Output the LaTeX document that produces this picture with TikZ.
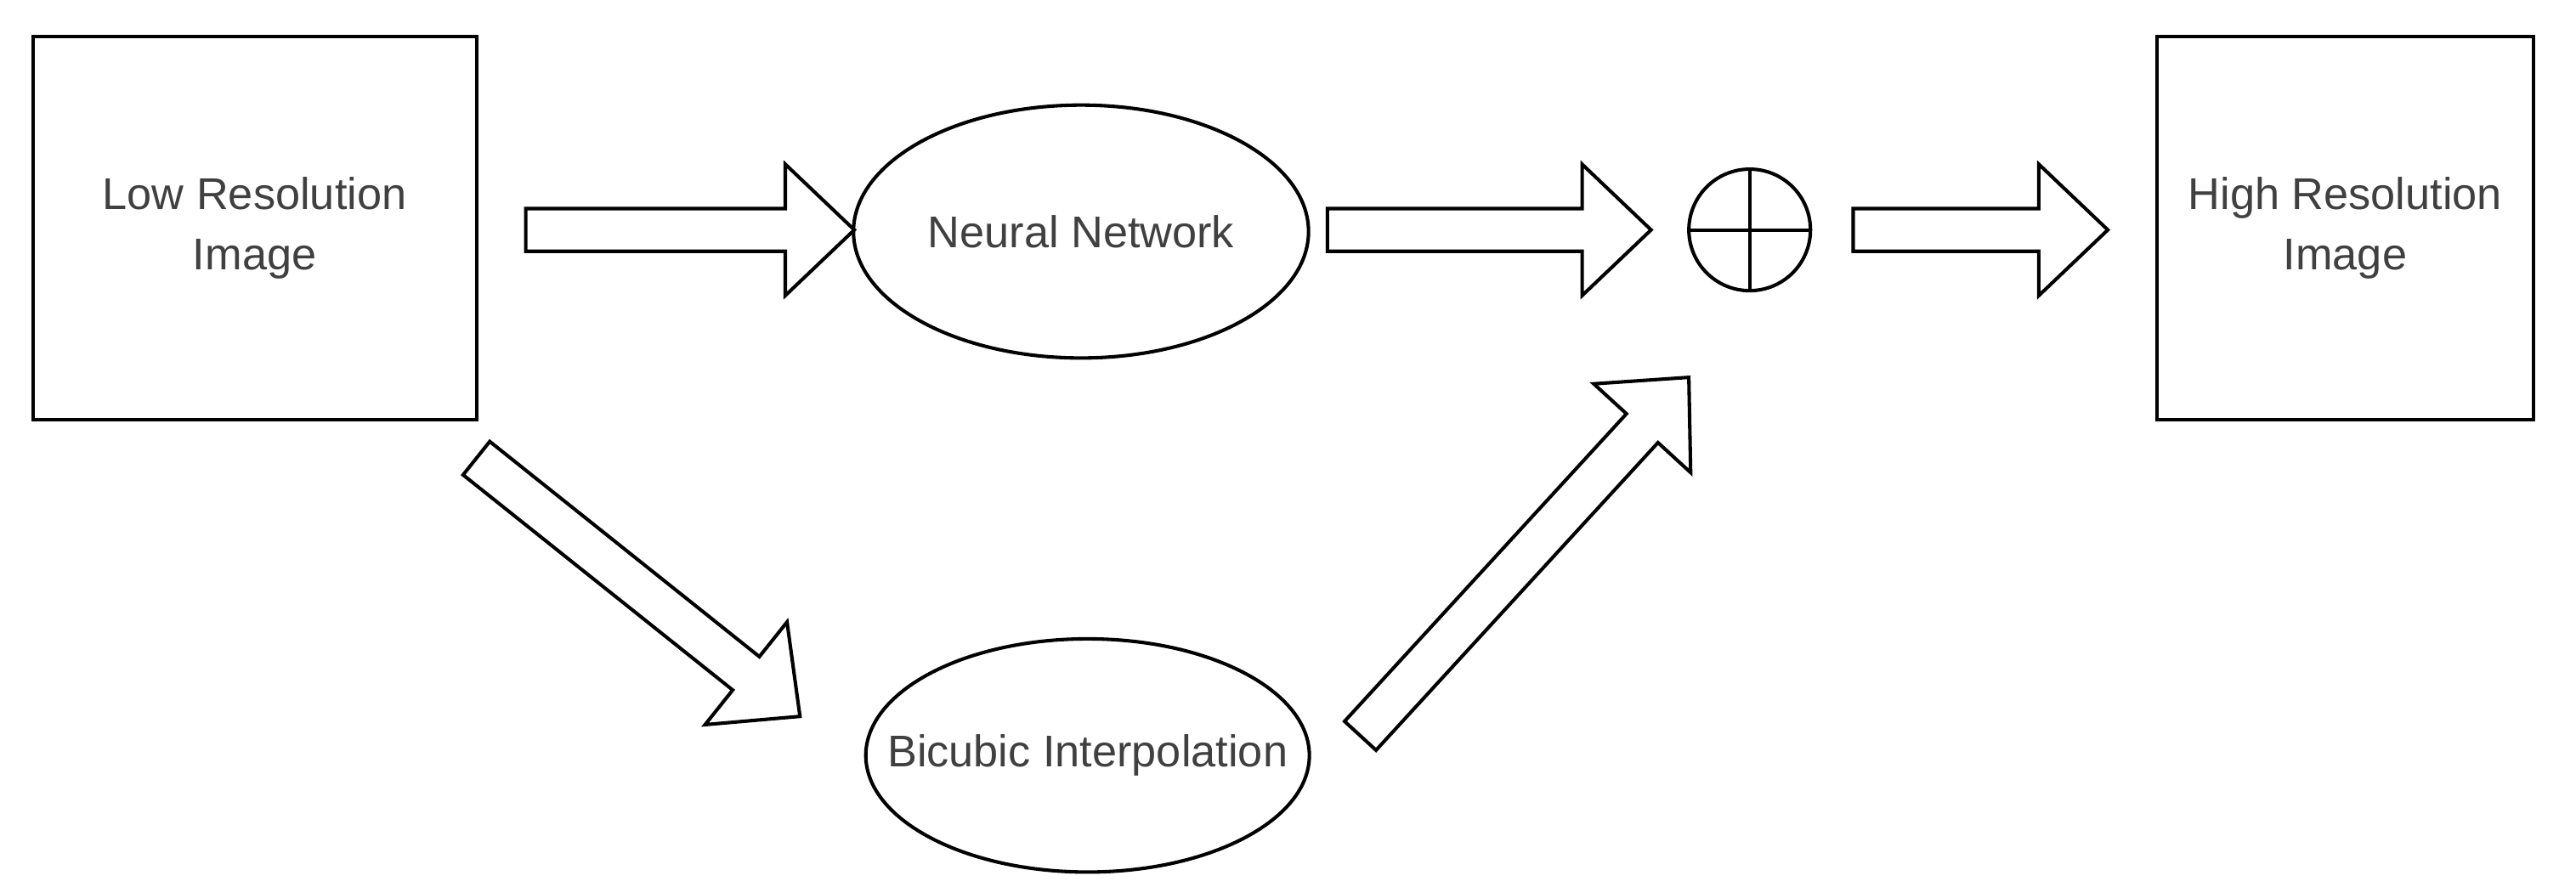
\documentclass[tikz,border=0pt]{standalone}
\usepackage{fontspec}
\setmainfont{Liberation Sans}
\usetikzlibrary{shapes.geometric}
\begin{document}
\begin{tikzpicture}[
  box/.style={draw,line width=0.6pt,minimum width=2.7cm,minimum height=2.33cm,align=center,text=black!75},
  ell/.style={draw,ellipse,line width=0.6pt,inner sep=0},
  lbl/.style={text=black!75},
  arr/.style={draw,line width=0.6pt,line join=miter},
  every node/.style={font=\fontsize{7.7}{10.5}\selectfont}]
\useasboundingbox (0,5.03) rectangle (15.68,10.43);
\newcommand\barrow[3]{%
  \begin{scope}[shift={#1},rotate=#2]
  \pgfmathsetmacro\L{#3}\pgfmathsetmacro\H{#3-0.42}
  \draw[arr] (0,-.13)--(\H,-.13)--(\H,-.40)--(\L,0)--(\H,.40)--(\H,.13)--(0,.13)--cycle;
  \end{scope}}
\node[box] (lr) at (1.55,9.04) {Low Resolution\\Image};
\node[box,minimum width=2.29cm] (hr) at (14.275,9.04) {High Resolution\\Image};
\node[ell,minimum width=2.77cm,minimum height=1.54cm] (nn) at (6.58,9.02) {};
\node[lbl] (nnt) at (nn) {Neural Network};
\node[ell,minimum width=2.70cm,minimum height=1.42cm] (bi) at (6.62,5.83) {};
\node[lbl] (bit) at (bi) {Bicubic Interpolation};
\node[circle,draw,line width=0.6pt,minimum size=0.74cm,inner sep=0] (plus) at (10.65,9.03) {};
\draw[line width=0.6pt] (plus.north)--(plus.south) (plus.west)--(plus.east);
\barrow{(3.20,9.03)}{0}{2.0}
\barrow{(8.08,9.03)}{0}{1.97}
\barrow{(11.28,9.03)}{0}{1.55}
\barrow{(2.90,7.64)}{-38.6}{2.52}
\barrow{(8.28,5.95)}{47.5}{2.96}
\end{tikzpicture}
\end{document}
